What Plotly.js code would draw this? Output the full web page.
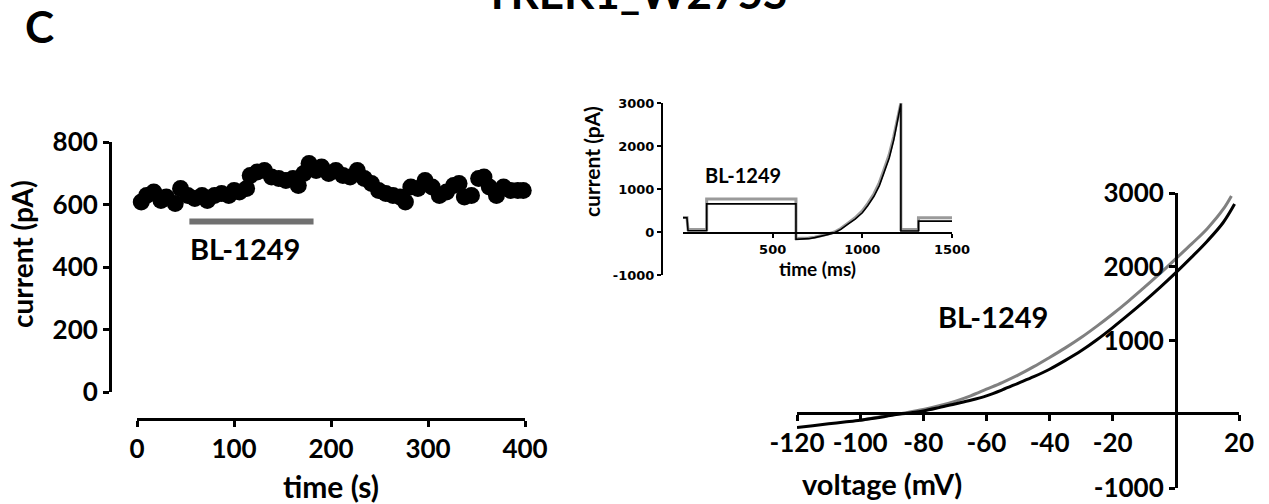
<!DOCTYPE html>
<html><head><meta charset="utf-8">
<script src="https://cdn.plot.ly/plotly-3.0.1.min.js"></script>
<style>html,body{margin:0;padding:0;background:#fff;}#chart{width:1269px;height:504px;}</style>
</head><body><div id="chart"></div>
<script>
// ---- Panel C left: current vs time ----
const timeS = [4.4, 9.9, 17.3, 24.7, 30.2, 39.4, 44.9, 52.3, 59.6, 67.0, 72.5, 79.9, 87.2, 94.6, 100.1, 105.6, 113.0, 116.7, 124.0, 131.4, 138.7, 146.1, 153.5, 160.8, 166.3, 171.9, 177.4, 184.7, 190.3, 197.6, 205.0, 212.3, 219.7, 227.1, 234.4, 241.8, 249.1, 256.5, 263.9, 271.2, 276.7, 282.3, 289.6, 297.0, 304.3, 311.7, 319.1, 326.4, 332.0, 337.5, 344.8, 352.2, 357.7, 363.2, 370.6, 377.9, 385.3, 392.6, 398.2];
const currentPA = [608, 629, 640, 613, 624, 603, 651, 629, 619, 629, 613, 629, 635, 629, 645, 640, 651, 693, 704, 709, 688, 683, 677, 683, 661, 699, 731, 709, 720, 699, 709, 693, 688, 709, 683, 667, 645, 635, 629, 624, 608, 656, 651, 677, 656, 629, 640, 661, 667, 624, 629, 683, 688, 656, 629, 656, 645, 645, 645];
const barTime = [54, 182];
const barLevel = [546, 546];
const leftXTicks = [0, 100, 200, 300, 400];
const leftYTicks = [0, 200, 400, 600, 800];

// ---- Inset: current trace vs time (ms) ----
const traceTimeCtrl = [0, 22, 28, 132, 132, 630, 630, 660, 700, 734, 770, 810, 845, 880, 918, 960, 1000, 1030, 1065, 1095, 1120, 1150, 1175, 1195, 1215, 1215, 1313, 1313, 1500];
const traceCurrCtrl = [330, 330, 30, 30, 654, 654, -170, -170, -155, -131, -100, -60, -15, 60, 177, 300, 446, 610, 831, 1080, 1369, 1720, 2138, 2520, 2984, 25, 25, 254, 254];
const traceTimeBL = [0, 22, 28, 132, 132, 630, 630, 660, 700, 734, 770, 810, 845, 880, 918, 960, 1000, 1030, 1065, 1095, 1120, 1150, 1175, 1195, 1215, 1215, 1313, 1313, 1500];
const traceCurrBL = [340, 340, 60, 60, 769, 769, -150, -152, -140, -120, -90, -45, 0, 80, 200, 330, 490, 660, 890, 1150, 1440, 1800, 2220, 2600, 3000, 60, 60, 330, 330];
const insetXTicks = [500, 1000, 1500];
const insetYTicks = [-1000, 0, 1000, 2000, 3000];
const insetYTickText = ['-1000', '0', '1000', '2000', '3000'];

// ---- Right: I-V curves ----
const voltCtrl = [-120, -115, -110, -105, -100, -95, -90, -85, -80, -75, -70, -65, -60, -55, -50, -45, -40, -35, -30, -25, -20, -15, -10, -5, 0, 5, 10, 15, 18.6];
const ivCtrl = [-180, -155, -130, -105, -80, -50, -15, 15, 45, 90, 140, 190, 250, 330, 420, 510, 610, 730, 860, 1010, 1175, 1350, 1530, 1720, 1920, 2130, 2350, 2600, 2850];
const voltBL = [-100, -95, -90, -85, -80, -75, -70, -65, -60, -55, -50, -45, -40, -35, -30, -25, -20, -15, -10, -5, 0, 5, 10, 15, 17.6];
const ivBL = [-85, -45, -10, 25, 65, 115, 175, 250, 340, 430, 530, 645, 770, 900, 1040, 1195, 1360, 1535, 1720, 1910, 2110, 2310, 2520, 2780, 2960];
const rightXTicks = [-120, -100, -80, -60, -40, -20, 20];
const rightXTickText = ['-120', '-100', '-80', '-60', '-40', '-20', '20'];
const rightYTicks = [-1000, 1000, 2000, 3000];
const rightYTickText = ['-1000', '1000', '2000', '3000'];

const W = 1269, H = 504;
const fx = p => p / W;
const fy = p => 1 - p / H;
const FONT = 'Lato, "Open Sans", sans-serif';
const VERD = '"DejaVu Sans", Verdana, sans-serif';

const traces = [
  {x: timeS, y: currentPA, type: 'scatter', mode: 'markers', xaxis: 'x', yaxis: 'y',
   marker: {color: '#000', size: 17}, cliponaxis: false, hoverinfo: 'skip'},
  {x: barTime, y: barLevel, type: 'scatter', mode: 'lines', xaxis: 'x', yaxis: 'y',
   line: {color: '#707070', width: 6}, cliponaxis: false},
  {x: traceTimeBL, y: traceCurrBL, type: 'scatter', mode: 'lines', xaxis: 'x3', yaxis: 'y3',
   line: {color: '#9a9a9a', width: 3}, cliponaxis: false},
  {x: traceTimeCtrl, y: traceCurrCtrl, type: 'scatter', mode: 'lines', xaxis: 'x3', yaxis: 'y3',
   line: {color: '#000', width: 1.6}, cliponaxis: false},
  {x: voltBL, y: ivBL, type: 'scatter', mode: 'lines', xaxis: 'x2', yaxis: 'y2',
   line: {color: '#808080', width: 3, shape: 'spline'}, cliponaxis: false},
  {x: voltCtrl, y: ivCtrl, type: 'scatter', mode: 'lines', xaxis: 'x2', yaxis: 'y2',
   line: {color: '#000', width: 3, shape: 'spline'}, cliponaxis: false}
];

function ax(extra) {
  return Object.assign({
    showgrid: false, zeroline: false, showline: true, linecolor: '#000', linewidth: 3,
    ticks: 'outside', ticklen: 6, tickwidth: 3, tickcolor: '#000', tickmode: 'array',
    anchor: 'free', automargin: false, fixedrange: true
  }, extra);
}

const layout = {
  width: W, height: H,
  margin: {l: 0, r: 0, t: 0, b: 0},
  paper_bgcolor: '#fff', plot_bgcolor: 'rgba(0,0,0,0)',
  showlegend: false,
  font: {family: FONT, color: '#000'},
  xaxis: ax({domain: [fx(137), fx(525)], range: [0, 400], position: fy(419), tickvals: leftXTicks,
    tickfont: {family: FONT, size: 26, weight: 'bold'},
    title: {text: 'time (s)', font: {family: FONT, size: 30, weight: 'bold'}, standoff: 14}}),
  yaxis: ax({domain: [fy(392), fy(142)], range: [0, 800], position: fx(110), tickvals: leftYTicks,
    tickfont: {family: FONT, size: 26, weight: 'bold'}}),
  xaxis2: ax({domain: [fx(797), fx(1239)], range: [-120, 20], position: fy(413), tickvals: rightXTicks,
    ticktext: rightXTickText, tickfont: {family: FONT, size: 26, weight: 'bold'}}),
  yaxis2: ax({domain: [fy(488), fy(193)], range: [-1000, 3000], position: fx(1176), tickvals: rightYTicks,
    ticktext: rightYTickText, tickfont: {family: FONT, size: 26, weight: 'bold'}}),
  xaxis3: ax({domain: [fx(683), fx(952)], range: [0, 1500], position: fy(233), tickvals: insetXTicks,
    linewidth: 2, tickwidth: 2, ticklen: 4,
    tickfont: {family: VERD, size: 13, weight: 'bold'},
    title: {text: 'time (ms)', font: {family: FONT, size: 19, weight: 'bold'}, standoff: 5}}),
  yaxis3: ax({domain: [fy(275), fy(103)], range: [-1000, 3000], position: fx(662), tickvals: insetYTicks,
    ticktext: insetYTickText, linewidth: 2, tickwidth: 2, ticklen: 4,
    tickfont: {family: VERD, size: 13, weight: 'bold'}}),
  annotations: [
    {text: 'TREK1_W275S', xref: 'paper', yref: 'paper', x: fx(636), y: 1 + 8 / H, xanchor: 'center', yanchor: 'middle',
     showarrow: false, font: {family: FONT, size: 44, weight: 'bold'}},
    {text: 'C', xref: 'paper', yref: 'paper', x: fx(39), y: fy(26), xanchor: 'center', yanchor: 'middle',
     showarrow: false, font: {family: FONT, size: 44, weight: 'bold'}},
    {text: 'current (pA)', xref: 'paper', yref: 'paper', x: fx(22), y: fy(254), textangle: -90,
     xanchor: 'center', yanchor: 'middle', showarrow: false, font: {family: FONT, size: 28, weight: 'bold'}},
    {text: 'current (pA)', xref: 'paper', yref: 'paper', x: fx(592), y: fy(162), textangle: -90,
     xanchor: 'center', yanchor: 'middle', showarrow: false, font: {family: FONT, size: 21, weight: 'bold'}},
    {text: 'BL-1249', xref: 'x', yref: 'y', x: 53, y: 459, xanchor: 'left', yanchor: 'middle',
     showarrow: false, font: {family: FONT, size: 29, weight: 'bold'}},
    {text: 'BL-1249', xref: 'x3', yref: 'y3', x: 335, y: 1320, xanchor: 'center', yanchor: 'middle',
     showarrow: false, font: {family: FONT, size: 20, weight: 'bold'}},
    {text: 'BL-1249', xref: 'x2', yref: 'y2', x: -58, y: 1330, xanchor: 'center', yanchor: 'middle',
     showarrow: false, font: {family: FONT, size: 29, weight: 'bold'}},
    {text: 'voltage (mV)', xref: 'paper', yref: 'paper', x: fx(882), y: fy(483), xanchor: 'center', yanchor: 'middle',
     showarrow: false, font: {family: FONT, size: 29, weight: 'bold'}}
  ]
};

Plotly.newPlot('chart', traces, layout, {staticPlot: true, displayModeBar: false});
</script>
</body></html>
